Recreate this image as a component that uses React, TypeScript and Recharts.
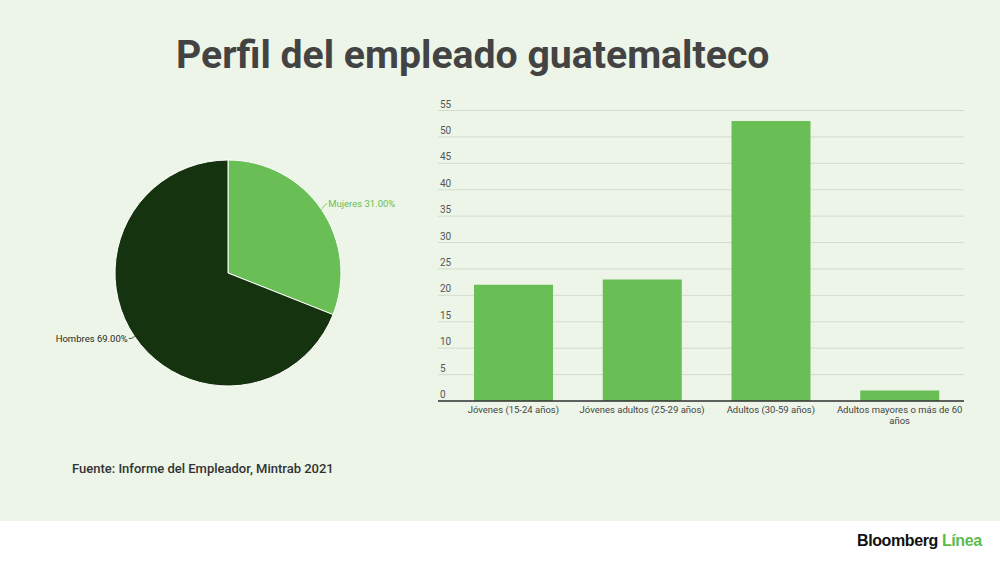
import React from "react";
import {
  BarChart,
  Bar,
  XAxis,
  YAxis,
  CartesianGrid,
  PieChart,
  Pie,
  Cell
} from "recharts";

const genderNames = ["Mujeres", "Hombres"];
const genderShares = [31, 69];
const genderColors = ["#69bf55", "#15330e"];

const ageGroups = [
  "Jóvenes (15-24 años)",
  "Jóvenes adultos (25-29 años)",
  "Adultos (30-59 años)",
  "Adultos mayores o más de 60 años"
];
const ageValues = [22, 23, 53, 2];
const yTicks = [0, 5, 10, 15, 20, 25, 30, 35, 40, 45, 50, 55];

const pieData = genderNames.map((name, i) => ({ name, value: genderShares[i] }));
const barData = ageGroups.map((group, i) => ({ group, value: ageValues[i] }));

const RAD = Math.PI / 180;
const font = "Roboto, 'Noto Sans', sans-serif";

// break a label into lines of at most maxChars characters
function wrapWords(label: string, maxChars: number) {
  const lines: string[] = [];
  let cur = "";
  label.split(" ").forEach((w) => {
    const next = cur ? cur + " " + w : w;
    if (next.length > maxChars && cur) {
      lines.push(cur);
      cur = w;
    } else {
      cur = next;
    }
  });
  if (cur) lines.push(cur);
  return lines;
}

function PieLabel(props: any) {
  const { cx, cy, midAngle, outerRadius, percent, name, index } = props;
  const cos = Math.cos(-midAngle * RAD);
  const sin = Math.sin(-midAngle * RAD);
  const x1 = cx + outerRadius * cos;
  const y1 = cy + outerRadius * sin;
  const x2 = cx + (outerRadius + 7) * cos;
  const y2 = cy + (outerRadius + 7) * sin - 2;
  const color = index === 0 ? genderColors[0] : "#1e2a1a";
  return (
    <g>
      <path d={`M${x1},${y1}Q${(x1 + x2) / 2},${y2 + 1} ${x2},${y2}`} stroke={color} fill="none" strokeWidth={0.8} />
      <text
        x={x2 + (cos >= 0 ? 1 : -1)}
        y={y2}
        textAnchor={cos >= 0 ? "start" : "end"}
        dominantBaseline="central"
        fontSize={9.5}
        fontFamily={font}
        fill={color}
      >
        {`${name} ${(percent * 100).toFixed(2)}%`}
      </text>
    </g>
  );
}

function XTick(props: any) {
  const { x, y, payload } = props;
  const lines = wrapWords(String(payload.value), 28);
  return (
    <text x={x} y={y + 12} textAnchor="middle" fontSize={9.5} fontFamily={font} fill="#444">
      {lines.map((ln, i) => (
        <tspan key={i} x={x} dy={i === 0 ? 0 : 10.5}>
          {ln}
        </tspan>
      ))}
    </text>
  );
}

function YTick(props: any) {
  const { x, y, payload } = props;
  return (
    <text x={x + 2} y={y - 3} textAnchor="start" fontSize={10} fontFamily={font} fill="#555">
      {payload.value}
    </text>
  );
}

export default function App() {
  return (
    <div
      style={{
        position: "absolute",
        left: 0,
        top: 0,
        width: 1000,
        height: 562,
        background: "#ecf5e8",
        fontFamily: font,
        overflow: "hidden"
      }}
    >
      <div
        style={{
          position: "absolute",
          left: 176,
          top: 32,
          fontSize: 39.2,
          lineHeight: "46px",
          fontWeight: 700,
          color: "#434343",
          whiteSpace: "nowrap"
        }}
      >
        Perfil del empleado guatemalteco
      </div>

      <div style={{ position: "absolute", left: 0, top: 100 }}>
        <PieChart width={420} height={350} margin={{ top: 0, right: 0, bottom: 0, left: 0 }}>
          <Pie
            data={pieData}
            dataKey="value"
            nameKey="name"
            cx={228}
            cy={173}
            outerRadius={113}
            startAngle={90}
            endAngle={-270}
            stroke="#ffffff"
            strokeWidth={1}
            label={PieLabel}
            labelLine={false}
            isAnimationActive={false}
          >
            {pieData.map((_, i) => (
              <Cell key={i} fill={genderColors[i]} />
            ))}
          </Pie>
        </PieChart>
      </div>

      <div style={{ position: "absolute", left: 420, top: 90 }}>
        <BarChart
          width={580}
          height={345}
          data={barData}
          margin={{ top: 20.5, right: 36, left: 0, bottom: 0 }}
          barSize={79}
        >
          <CartesianGrid vertical={false} stroke="#d2dbcd" strokeWidth={1} />
          <XAxis
            dataKey="group"
            interval={0}
            height={34}
            tickLine={false}
            tickSize={0}
            tickMargin={0}
            padding={{ left: 11, right: 0 }}
            axisLine={{ stroke: "#333", strokeWidth: 1.5 }}
            tick={<XTick />}
          />
          <YAxis
            width={18}
            domain={[0, 55]}
            ticks={yTicks}
            interval={0}
            axisLine={false}
            tickLine={false}
            tickSize={0}
            tickMargin={0}
            tick={<YTick />}
          />
          <Bar dataKey="value" fill="#69bf55" isAnimationActive={false} />
        </BarChart>
      </div>

      <div
        style={{
          position: "absolute",
          left: 72,
          top: 461,
          fontSize: 13,
          fontWeight: 500,
          color: "#333",
          whiteSpace: "nowrap"
        }}
      >
        Fuente: Informe del Empleador, Mintrab 2021
      </div>

      <div
        style={{
          position: "absolute",
          left: 0,
          top: 521,
          width: 1000,
          height: 41,
          background: "#ffffff"
        }}
      >
        <div
          style={{
            position: "absolute",
            left: 857,
            top: 11,
            fontSize: 16,
            fontWeight: 800,
            letterSpacing: -0.4,
            whiteSpace: "nowrap",
            fontFamily: "'Liberation Sans', Arial, sans-serif"
          }}
        >
          <span style={{ color: "#111" }}>Bloomberg</span>{" "}
          <span style={{ color: "#5cbb4c", fontWeight: 600 }}>Línea</span>
        </div>
      </div>
    </div>
  );
}
